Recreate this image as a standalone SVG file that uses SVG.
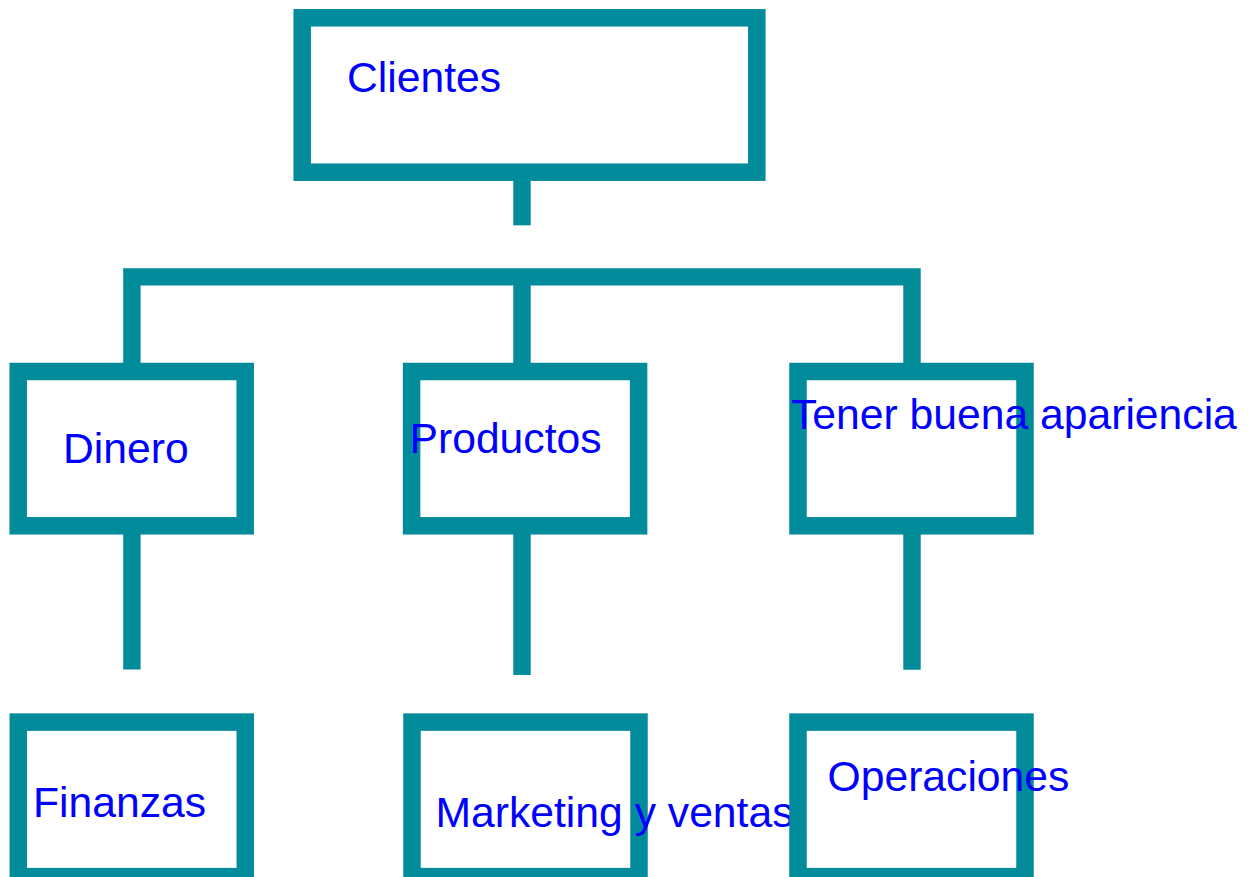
<svg xmlns="http://www.w3.org/2000/svg" width="1251" height="877" viewBox="0 0 1251 877">
<style>
.box{fill:#ffffff;stroke:#018b9b;stroke-width:17.5}
.conn{fill:none;stroke:#018b9b;stroke-width:17.4;stroke-linecap:butt;stroke-linejoin:miter}
.lbl{font-family:"Liberation Sans",Arial,sans-serif;font-size:42.67px;fill:#0000ff}
</style>
<rect width="1251" height="877" fill="#ffffff"/>
<g id="connectors">
<path class="conn" d="M522,181 V225.3"/>
<path class="conn" d="M131.9,363 V276.9 H912 V363"/>
<path class="conn" d="M522,276.9 V363"/>
<path class="conn" d="M131.9,534 V669.5"/>
<path class="conn" d="M522,534 V675"/>
<path class="conn" d="M912,534 V669.7"/>
</g>
<g id="clientes">
<rect class="box" x="302.2" y="17.8" width="454.6" height="154.4"/>
<text class="lbl" x="347" y="92.3">Clientes</text>
</g>
<g id="dinero">
<rect class="box" x="18.2" y="371.5" width="227" height="154.3"/>
<text class="lbl" x="63" y="462.7">Dinero</text>
</g>
<g id="productos">
<rect class="box" x="411.6" y="371.5" width="227" height="154.3"/>
<text class="lbl" x="409.5" y="452.7">Productos</text>
</g>
<g id="tener">
<rect class="box" x="798" y="371.5" width="227" height="154.3"/>
<text class="lbl" x="791" y="429">Tener buena apariencia</text>
</g>
<g id="finanzas">
<rect class="box" x="18.3" y="722.1" width="227" height="154.5"/>
<text class="lbl" x="33" y="817.3">Finanzas</text>
</g>
<g id="marketing">
<rect class="box" x="412" y="722.1" width="227" height="154.5"/>
<text class="lbl" x="435.5" y="826.5">Marketing y ventas</text>
</g>
<g id="operaciones">
<rect class="box" x="798" y="722.1" width="227" height="154.5"/>
<text class="lbl" x="827.5" y="790.7">Operaciones</text>
</g>
</svg>
